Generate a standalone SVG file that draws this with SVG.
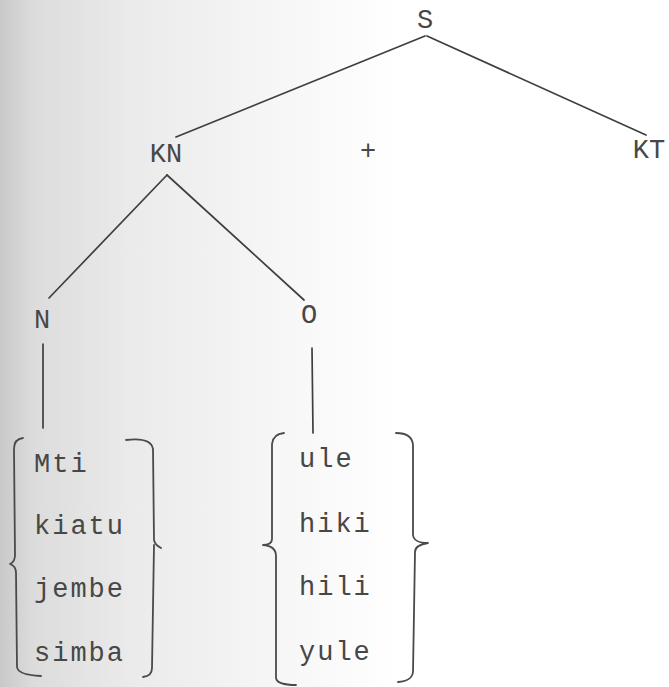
<svg xmlns="http://www.w3.org/2000/svg" width="669" height="687" viewBox="0 0 669 687">
<defs>
<linearGradient id="scan" x1="0" y1="0" x2="1" y2="0">
<stop offset="0" stop-color="#c9c9c9"/>
<stop offset="0.05" stop-color="#dcdcdc"/>
<stop offset="0.2" stop-color="#ebebeb"/>
<stop offset="0.45" stop-color="#f8f8f8"/>
<stop offset="0.6" stop-color="#ffffff"/>
<stop offset="1" stop-color="#ffffff"/>
</linearGradient>
</defs>
<style>
.t{font-family:"Liberation Mono","DejaVu Sans Mono",monospace;font-size:27px;fill:#474747;letter-spacing:2px}
.c{font-family:"Liberation Mono","DejaVu Sans Mono",monospace;font-size:27px;fill:#474747;text-anchor:middle}
.l{fill:none;stroke:#3f3f3f;stroke-width:1.7;stroke-linecap:round;stroke-linejoin:round}
.b{fill:none;stroke:#4a4a4a;stroke-width:1.8;stroke-linecap:round;stroke-linejoin:round}
</style>
<rect x="0" y="0" width="669" height="687" fill="url(#scan)"/>
<g id="connectors">
<line class="l" x1="425" y1="36" x2="176" y2="137"/>
<line class="l" x1="427" y1="36" x2="646" y2="135"/>
<line class="l" x1="167" y1="175" x2="49" y2="298"/>
<line class="l" x1="167" y1="175" x2="304" y2="300"/>
<line class="l" x1="43" y1="344" x2="43" y2="428"/>
<line class="l" x1="312" y1="348" x2="313" y2="433"/>
</g>
<g id="node-S"><text class="c" x="425" y="28">S</text></g>
<g id="node-KN"><text class="c" x="166" y="162">KN</text></g>
<g id="node-plus"><text class="c" x="368" y="159">+</text></g>
<g id="node-KT"><text class="c" x="649" y="158">KT</text></g>
<g id="node-N"><text class="c" x="42" y="328">N</text></g>
<g id="node-O"><text class="c" x="309" y="323">O</text></g>
<g id="node-nouns">
<path class="b" d="M23,438 Q14,439 14,449 L15,555 Q15,562 10,564 Q16,566 16,573 L17,667 Q18,675 41,676"/>
<path class="b" d="M126,440 Q151,437 153,449 L154,540 Q155,545 161,548"/>
<path class="b" d="M154,545 L152,668 Q152,676 143,677"/>
<text class="t" x="34" y="472">Mti</text>
<text class="t" x="34" y="534">kiatu</text>
<text class="t" x="34" y="597">jembe</text>
<text class="t" x="34" y="661">simba</text>
</g>
<g id="node-demonstratives">
<path class="b" d="M284,433 Q273,434 272,444 L272,539 Q272,545 263,545 Q276,546 276,556 L276,678 Q277,685 296,685"/>
<path class="b" d="M396,433 Q412,433 413,445 L413,535 Q414,543 428,543 Q415,545 415,552 L413,672 Q412,681 398,682"/>
<text class="t" x="299" y="467">ule</text>
<text class="t" x="299" y="532">hiki</text>
<text class="t" x="299" y="595">hili</text>
<text class="t" x="299" y="660">yule</text>
</g>
</svg>
